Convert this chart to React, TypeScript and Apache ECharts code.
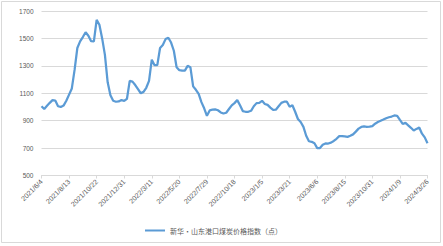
import React, { useEffect, useRef } from "react";
import * as echarts from "echarts";

const tickLabels = [
  "2021/6/4", "2021/8/13", "2021/10/22", "2021/12/31", "2022/3/11",
  "2022/5/20", "2022/7/29", "2022/10/18", "2023/1/5", "2023/3/21",
  "2023/6/6", "2023/8/15", "2023/10/31", "2024/1/9", "2024/3/26",
];

const indexValues = [
  1005, 985, 1008, 1030, 1050, 1047, 1005, 1000, 1010, 1045,
  1090, 1135, 1270, 1430, 1478, 1510, 1545, 1520, 1480, 1478,
  1635, 1600, 1500, 1380, 1180, 1085, 1045, 1038, 1040, 1050,
  1045, 1060, 1190, 1185, 1160, 1130, 1100, 1110, 1140, 1190,
  1345, 1305, 1305, 1430, 1452, 1495, 1505, 1470, 1410, 1290,
  1268, 1265, 1265, 1300, 1290, 1150, 1125, 1095, 1035, 990,
  935, 975, 980, 982, 976, 960, 952, 958, 985, 1012,
  1028, 1050, 1012, 970, 965, 965, 972, 1005, 1028, 1030,
  1045, 1022, 1015, 995, 978, 980, 1005, 1030, 1038, 1038,
  1002, 1012, 965, 912, 890, 855, 790, 750, 746, 735,
  700, 700, 724, 734, 733, 740, 752, 768, 787, 788,
  785, 782, 790, 800, 820, 842, 854, 858, 855, 856,
  860, 878, 890, 899, 908, 918, 925, 930, 938, 935,
  905, 876, 885, 866, 848, 828, 840, 850, 805, 778,
  735,
];

const yTicks = [500, 700, 900, 1100, 1300, 1500, 1700];
const seriesName = "新华·山东港口煤炭价格指数（点）";

function buildCategories(): string[] {
  const cats: string[] = [];
  for (let k = 0; k < tickLabels.length - 1; k++) {
    const [y, m, d] = tickLabels[k].split("/").map(Number);
    const base = new Date(y, m - 1, d);
    for (let j = 0; j < 10; j++) {
      if (j === 0) {
        cats.push(tickLabels[k]);
      } else {
        const dt = new Date(base.getTime() + j * 7 * 86400000);
        cats.push(`${dt.getFullYear()}/${dt.getMonth() + 1}/${dt.getDate()}`);
      }
    }
  }
  cats.push(tickLabels[tickLabels.length - 1]);
  return cats;
}

export default function App() {
  const ref = useRef<HTMLDivElement>(null);
  useEffect(() => {
    document.body.style.margin = "0";
    if (!ref.current) return;
    const chart = echarts.init(ref.current, undefined, { renderer: "svg" });
    const categories = buildCategories();
    chart.setOption({
      animation: false,
      backgroundColor: "#ffffff",
      graphic: [
        {
          type: "rect",
          shape: { x: 1.5, y: 1.5, width: 439, height: 241 },
          style: { fill: "none", stroke: "#d9d9d9", lineWidth: 1 },
          silent: true,
        },
      ],
      grid: { left: 41.5, right: 15.5, top: 11, bottom: 70.5 },
      legend: {
        left: 140,
        top: 222,
        icon: "rect",
        itemWidth: 20,
        itemHeight: 2,
        itemGap: 4,
        textStyle: {
          fontSize: 7,
          color: "#595959",
          fontFamily: "Noto Sans CJK SC",
        },
        data: [seriesName],
      },
      xAxis: {
        type: "category",
        data: categories,
        boundaryGap: false,
        axisLine: { show: true, lineStyle: { color: "#d9d9d9", width: 1 } },
        axisTick: {
          show: true,
          interval: 9,
          length: 3,
          lineStyle: { color: "#d9d9d9" },
        },
        axisLabel: {
          interval: 9,
          rotate: 45,
          fontSize: 7,
          color: "#595959",
          fontFamily: "Liberation Sans",
          margin: 5,
        },
        splitLine: { show: false },
      },
      yAxis: {
        type: "value",
        min: yTicks[0],
        max: yTicks[yTicks.length - 1],
        interval: 200,
        axisLine: { show: false },
        axisTick: { show: false },
        axisLabel: {
          fontSize: 6.5,
          color: "#595959",
          fontFamily: "Liberation Sans",
          margin: 8,
          formatter: (v: number) => String(v),
        },
        splitLine: { lineStyle: { color: "#d9d9d9", width: 1 } },
      },
      series: [
        {
          name: seriesName,
          type: "line",
          data: indexValues,
          showSymbol: false,
          symbol: "none",
          smooth: false,
          lineStyle: { color: "#5b9bd5", width: 2.25 },
          itemStyle: { color: "#5b9bd5" },
        },
      ],
    });
    return () => chart.dispose();
  }, []);
  return <div ref={ref} style={{ width: 443, height: 246 }} />;
}
